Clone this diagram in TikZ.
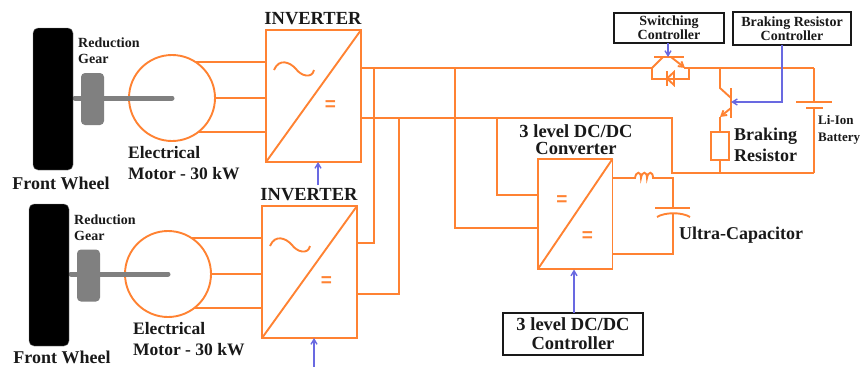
\documentclass[tikz,border=0pt]{standalone}
\usepackage{fontspec}
\setmainfont{Liberation Serif}
\newfontfamily\eqfont{Liberation Sans}
\usetikzlibrary{arrows.meta,calc}
\definecolor{EVOrange}{RGB}{255,130,50}
\definecolor{EVBlue}{RGB}{105,105,225}
\definecolor{EVGray}{RGB}{128,128,128}
\definecolor{EVDark}{RGB}{25,25,25}
\tikzset{
  wire/.style={draw=EVOrange,line width=1.9pt},
  bus/.style={draw=EVOrange,line width=2.4pt},
  tiparr/.style={-{Straight Barb[length=5pt,width=6pt]},EVOrange,line width=1.9pt},
  sig/.style={-{Straight Barb[length=5pt,width=6pt]},EVBlue,line width=1.4pt},
  convbox/.style={wire,rectangle,inner sep=0pt,outer sep=0pt},
  motorc/.style={wire,circle,minimum size=86pt,inner sep=0pt,outer sep=0pt},
  wheelb/.style={fill=black,draw=EVGray,rounded corners=5pt,minimum width=40pt,minimum height=142pt,inner sep=0pt,outer sep=0pt},
  gearb/.style={fill=EVGray,rounded corners=4pt,minimum width=23pt,minimum height=52pt,inner sep=0pt,outer sep=0pt},
  shaft/.style={EVGray,line width=5pt,line cap=round},
  ctrlb/.style={draw=EVDark,fill=white,line width=1.6pt,inner sep=0pt,outer sep=0pt,align=center,text=EVDark,font=\fontsize{14}{14}\selectfont\bfseries},
  biglbl/.style={inner sep=0pt,align=left,text=EVDark,font=\fontsize{17.5}{21}\selectfont\bfseries},
  smalllbl/.style={inner sep=0pt,align=left,text=EVDark,font=\fontsize{14}{16}\selectfont\bfseries},
  eqsign/.style={inner sep=0pt,text=EVOrange,font=\eqfont\fontsize{19}{19}\selectfont\bfseries},
}
\begin{document}
\begin{tikzpicture}[x=1pt,y=-1pt]
  \useasboundingbox (0,0) rectangle (860,367);
  % drive trains
  \node[motorc] (motora) at (172,98) {};
  \node[motorc] (motorb) at (168,274) {};
  \draw[shaft] (75,98) -- (motora.center);
  \draw[shaft] (71,274) -- (motorb.center);
  \node[wheelb] (wheela) at (53,99) {};
  \node[wheelb] (wheelb) at (49,275) {};
  \node[gearb] (geara) at (92.5,99) {};
  \node[gearb] (gearb) at (88.5,275.5) {};
  % converters
  \node[convbox,minimum width=95pt,minimum height=132pt] (inva) at (313.5,96) {};
  \node[convbox,minimum width=95pt,minimum height=132pt] (invb) at (309.5,272) {};
  \node[convbox,minimum width=74.5pt,minimum height=110pt] (conv) at (575.2,214) {};
  \draw[wire] (motora.56) -- (inva.west |- motora.56);
  \draw[wire] (motora.east) -- (inva.west |- motora.east);
  \draw[wire] (motora.-52) -- (inva.west |- motora.-52);
  \draw[wire] (motorb.56) -- (invb.west |- motorb.56);
  \draw[wire] (motorb.east) -- (invb.west |- motorb.east);
  \draw[wire] (motorb.-52) -- (invb.west |- motorb.-52);
  \foreach \inv in {inva,invb} {
    \draw[wire] (\inv.south west) -- (\inv.north east);
    \draw[wire,shift={(\inv.north west)}] (8,40) .. controls (13,28) and (24,32) .. (30,39) .. controls (35,46) and (46,49) .. (48,40);
    \node[eqsign] (eq\inv) at ($(\inv.north west)+(64.5,76)$) {=};
  }
  \draw[wire] (conv.south west) -- (conv.north east);
  \node[eqsign] (eqcl) at (562,201) {=};
  \node[eqsign] (eqcr) at (587.5,237) {=};
  % dc rails
  \coordinate (busa) at (652,68);
  \coordinate (busb) at (672,118);
  \coordinate (tapa) at (374,68);
  \coordinate (tapb) at (399,118);
  \coordinate (tapc) at (455,68);
  \coordinate (tapd) at (497,118);
  \coordinate (swr) at (689,68);
  \coordinate (brt) at (720,68);
  \coordinate (batt) at (814,68);
  \coordinate (botl) at (672,173);
  \coordinate (botr) at (814,173);
  \draw[wire] (inva.east |- busa) -- (busa);
  \draw[wire] (inva.east |- busb) -- (busb) -- (botl) -- (botr);
  \draw[wire] (tapa) |- (invb.east |- 0,243);
  \draw[wire] (tapb) |- (invb.east |- 0,294);
  \draw[wire] (tapc) |- (conv.west |- 0,228);
  \draw[wire] (tapd) |- (conv.west |- 0,195);
  % switching device
  \coordinate (swb) at (668,57);
  \draw[wire] (654,57) -- (684,57);
  \draw[wire] (busa) -- (663,57);
  \draw[tiparr] (671,57) -- (685,68);
  \draw[wire] (busa) |- (652,79) -- (689,79) -- (swr);
  \draw[wire] (667,71) -- (667,86);
  \draw[wire] (667,78.5) -- (674,72) -- (674,85) -- cycle;
  \draw[bus] (684,68) -- (batt);
  % braking branch
  \coordinate (brg) at (731,102);
  \node[draw=EVOrange,line width=1.9pt,minimum width=18pt,minimum height=28pt,inner sep=0pt,outer sep=0pt] (brres) at (720,146) {};
  \draw[wire] (brt) -- (720,88) -- (731,98);
  \draw[wire] (731,88) -- (731,118);
  \draw[tiparr] (731,108) -- (720,117);
  \draw[wire] (720,117) -- (brres.north);
  \draw[wire] (brres.south) -- (brres.south |- botl);
  % battery
  \coordinate (batp) at (814,102);
  \coordinate (batn) at (814,108);
  \draw[wire] (batt) -- (batp);
  \draw[wire] (796,102) -- (832,102);
  \draw[wire] (806,108) -- (823,108);
  \draw[wire] (batn) -- (botr);
  % filter and ultra-capacitor
  \coordinate (capt) at (673,208);
  \coordinate (capb) at (673,214);
  \draw[wire] (conv.east |- 0,178) -- (635,178) .. controls (636,171) and (641,171) .. (641,178) .. controls (642,171) and (647,171) .. (647,178) .. controls (648,171) and (653,171) .. (653,178) -- (673,178) -- (capt);
  \draw[wire] (655,208) -- (690,208);
  \draw[wire] (657,217) .. controls (665,212) and (682,212) .. (690,217);
  \draw[wire] (capb) -- (673,254) -- (conv.east |- 0,254);
  % controllers
  \node[ctrlb,minimum width=110pt,minimum height=30pt] (swctrl) at (669,28) {Switching\\Controller};
  \node[ctrlb,minimum width=118pt,minimum height=33pt] (brctrl) at (792,28.5) {Braking Resistor\\Controller};
  \node[ctrlb,minimum width=140pt,minimum height=42pt,font=\fontsize{18.5}{19}\selectfont\bfseries] (dcctrl) at (573,334) {3 level DC/DC\\ Controller};
  \coordinate (invagate) at (318,185);
  \coordinate (invbgate) at (314,367);
  \draw[sig] (swctrl.south -| swb) -- (swb);
  \draw[sig] (brctrl.south -| 782,0) |- (brg);
  \draw[sig] (dcctrl.north -| 574,0) -- (574,269.5);
  \draw[sig] (invagate) -- (inva.south -| invagate);
  \draw[sig] (invbgate) -- (invb.south -| invbgate);
  % labels
  \node[biglbl,font=\fontsize{18.5}{21}\selectfont\bfseries] (lblinva) at (313,19) {INVERTER};
  \node[biglbl,font=\fontsize{18.5}{21}\selectfont\bfseries] (lblinvb) at (309,195) {INVERTER};
  \node[biglbl,font=\fontsize{18}{21}\selectfont\bfseries] (lblwheela) at (61,183) {Front Wheel};
  \node[biglbl,font=\fontsize{18}{21}\selectfont\bfseries] (lblwheelb) at (62,357.5) {Front Wheel};
  \node[smalllbl,anchor=west] (lblgeara) at (78,51) {Reduction\\Gear};
  \node[smalllbl,anchor=west] (lblgearb) at (74,227.5) {Reduction\\Gear};
  \node[biglbl,anchor=west] (lblmotora) at (128,163) {Electrical\\Motor - 30 kW};
  \node[biglbl,anchor=west] (lblmotorb) at (133,339.5) {Electrical\\Motor - 30 kW};
  \node[biglbl,font=\fontsize{18}{21}\selectfont\bfseries,anchor=west] (lblbrake) at (734,145) {Braking\\Resistor};
  \node[inner sep=0pt,align=left,anchor=west,text=EVDark,font=\fontsize{13}{17}\selectfont\bfseries] (lblbatt) at (818,129.5) {Li-Ion\\Battery};
  \node[inner sep=0pt,align=center,text=EVDark,font=\fontsize{18.5}{17}\selectfont\bfseries] (lblconv) at (576,140) {3 level DC/DC\\Converter};
  \node[biglbl,font=\fontsize{18}{21}\selectfont\bfseries,anchor=west] (lblcap) at (679,235) {Ultra-Capacitor};
\end{tikzpicture}
\end{document}
